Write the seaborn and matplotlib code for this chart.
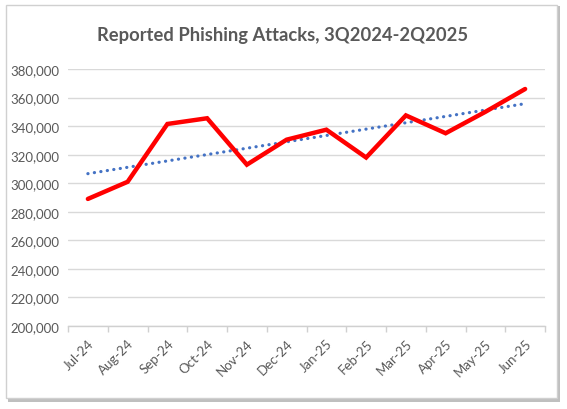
import numpy as np
import pandas as pd
import matplotlib
matplotlib.use("Agg")
import matplotlib.pyplot as plt
from matplotlib.patches import Rectangle
from matplotlib.ticker import FuncFormatter, FixedLocator
import seaborn as sns

months = ["Jul-24", "Aug-24", "Sep-24", "Oct-24", "Nov-24", "Dec-24",
          "Jan-25", "Feb-25", "Mar-25", "Apr-25", "May-25", "Jun-25"]
attacks = [289000, 301000, 341500, 345500, 313000, 330500,
           337500, 318000, 347500, 335000, 350000, 366000]
y_ticks = [200000, 220000, 240000, 260000, 280000, 300000,
           320000, 340000, 360000, 380000]
title = "Reported Phishing Attacks, 3Q2024-2Q2025"

sns.set_theme(style="white")
plt.rcParams['font.family'] = ['Lato', 'DejaVu Sans']

df = pd.DataFrame({"pos": np.arange(len(months)), "month": months, "attacks": attacks})
coef = np.polyfit(df["pos"], df["attacks"], 1)
df["trend"] = np.polyval(coef, df["pos"])

W, H = 567, 410
fig = plt.figure(figsize=(W / 100, H / 100), dpi=100)
fig.patch.set_facecolor("white")

shadow = Rectangle((8 / W, 1 - 403 / H), 552 / W, 396 / H, transform=fig.transFigure,
                   facecolor="#bfbfbf", edgecolor="none", zorder=0)
frame = Rectangle((6 / W, 1 - 399 / H), 551 / W, 393 / H, transform=fig.transFigure,
                  facecolor="white", edgecolor="#d0d0d0", linewidth=1, zorder=1)
fig.patches.extend([shadow, frame])

ax = fig.add_axes([68 / W, 1 - 327 / H, (545 - 68) / W, (327 - 70) / H])
ax.set_facecolor("none")
ax.set_zorder(2)

sns.lineplot(data=df, x="pos", y="trend", ax=ax, color="#4472C4", linewidth=2.3,
             linestyle=(0, (0.05, 2.0)))
ax.lines[-1].set_dash_capstyle("round")
sns.lineplot(data=df, x="pos", y="attacks", ax=ax, color="#FF0000", linewidth=3.2)
ax.lines[-1].set_solid_joinstyle("miter")

ax.set_xlim(-0.5, len(months) - 0.5)
ax.set_ylim(y_ticks[0], y_ticks[-1])
ax.set_yticks(y_ticks)
ax.yaxis.set_major_formatter(FuncFormatter(lambda v, p: f"{int(v):,}"))
ax.set_xticks(df["pos"])
ax.set_xticklabels(months, rotation=45, ha="right", rotation_mode="anchor")
ax.xaxis.set_minor_locator(FixedLocator(np.arange(-0.5, len(months), 1.0)))
ax.tick_params(axis="x", which="major", length=0, pad=8, labelsize=9.5, labelcolor="#595959")
ax.tick_params(axis="x", which="minor", length=4, width=1, color="#d0d0d0", direction="out", bottom=True)
ax.tick_params(axis="y", length=0, pad=6, labelsize=9.5, labelcolor="#595959")

ax.grid(axis="y", color="#d9d9d9", linewidth=1)
ax.set_axisbelow(True)
for side in ["top", "right", "left"]:
    ax.spines[side].set_visible(False)
ax.spines["bottom"].set_color("#d0d0d0")
ax.spines["bottom"].set_linewidth(1)
ax.set_xlabel("")
ax.set_ylabel("")

fig.text(283 / W, 1 - 36 / H, title, ha="center", va="center", fontsize=13.2,
         color="#595959", fontweight="bold")

fig.savefig("out.png", dpi=100)
